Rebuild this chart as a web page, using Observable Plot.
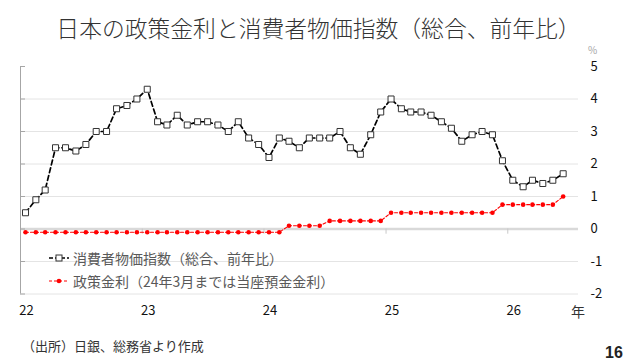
<!DOCTYPE html>
<html><head><meta charset="utf-8">
<script src="https://cdn.jsdelivr.net/npm/d3@7"></script>
<script src="https://cdn.jsdelivr.net/npm/@observablehq/plot@0.6"></script>
<style>
  body{margin:0;background:#fff;font-family:"Noto Sans CJK JP","Noto Sans",sans-serif;}
  #wrap{position:relative;width:637px;height:364px;overflow:hidden;}
  #title{position:absolute;left:0;top:11px;width:637px;text-align:center;font-size:22.8px;color:#333;font-weight:300;white-space:nowrap;letter-spacing:0;}
  #chart{position:absolute;left:0;top:50px;}
  .lbl{position:absolute;white-space:nowrap;}
  #legend{position:absolute;left:49px;top:247px;font-size:14px;color:#595959;}
  #legend div{height:22.5px;display:flex;align-items:center;}
  #legend svg{margin-right:4px;}
</style></head>
<body>
<div id="wrap">
  <div id="title">日本の政策金利と消費者物価指数（総合、前年比）</div>
  <div id="chart"></div>
  <div class="lbl" style="left:588px;top:42px;font-size:10px;color:#a6a6a6;">%</div>
  <div class="lbl" style="left:571px;top:301px;font-size:14px;color:#333;">年</div>
  <div id="legend"></div>
  <div class="lbl" style="left:22px;top:336px;font-size:13px;color:#333;">（出所）日銀、総務省より作成</div>
  <div class="lbl" style="left:605px;top:344px;font-size:16px;font-weight:bold;color:#222;font-family:'Liberation Sans',Arial,sans-serif;">16</div>
</div>
<script>
// ---- data ----
const startMonth = "2022-01";
const cpi = [
  0.5,0.9,1.2,2.5,2.5,2.4,2.6,3.0,3.0,3.7,3.8,4.0,
  4.3,3.3,3.2,3.5,3.2,3.3,3.3,3.2,3.0,3.3,2.8,2.6,
  2.2,2.8,2.7,2.5,2.8,2.8,2.8,3.0,2.5,2.3,2.9,3.6,
  4.0,3.7,3.6,3.6,3.5,3.3,3.1,2.7,2.9,3.0,2.9,2.1,
  1.5,1.3,1.5,1.4,1.5,1.7
];
const policyRate = [
  -0.1,-0.1,-0.1,-0.1,-0.1,-0.1,-0.1,-0.1,-0.1,-0.1,-0.1,-0.1,
  -0.1,-0.1,-0.1,-0.1,-0.1,-0.1,-0.1,-0.1,-0.1,-0.1,-0.1,-0.1,
  -0.1,-0.1,0.1,0.1,0.1,0.1,0.25,0.25,0.25,0.25,0.25,0.25,
  0.5,0.5,0.5,0.5,0.5,0.5,0.5,0.5,0.5,0.5,0.5,0.75,
  0.75,0.75,0.75,0.75,0.75,1.0
];
const yearLabels = ["22","23","24","25","26"];
const yTicks = [-2,-1,0,1,2,3,4,5];
const cpiName = "消費者物価指数（総合、前年比）";
const rateName = "政策金利（24年3月までは当座預金金利）";

// ---- build table ----
const d0 = new Date(startMonth + "-01T00:00:00Z");
const rows = cpi.map((v, i) => ({
  date: new Date(Date.UTC(d0.getUTCFullYear(), d0.getUTCMonth() + i, 16)),
  cpi: v,
  rate: policyRate[i]
}));
const yearStarts = yearLabels.map(s => new Date(Date.UTC(2000 + +s, 0, 1)));
const xDomain = [yearStarts[0], new Date(Date.UTC(2026, 7, 1))];
const gridVals = yTicks.filter(v => v !== 0 && v !== 5);

const chart = Plot.plot({
  width: 637, height: 280,
  marginLeft: 20, marginRight: 59, marginTop: 16, marginBottom: 36.5,
  style: {fontFamily: "'Noto Sans CJK JP', sans-serif", background: "transparent"},
  x: {type: "utc", domain: xDomain},
  y: {domain: [-2, 5]},
  marks: [
    Plot.ruleY(gridVals, {y: d => d, x1: xDomain[0], x2: xDomain[1], stroke: "#e4e4e4", strokeWidth: 1}),
    Plot.ruleY([0], {y: d => d, x1: xDomain[0], x2: xDomain[1], stroke: "#d9d9d9", strokeWidth: 2.5}),
    Plot.ruleX(yearStarts.slice(1), {x: d => d, y1: 0, y2: -0.16, stroke: "#c8c8c8", strokeWidth: 1}),
    Plot.ruleX([xDomain[0]], {x: d => d, y1: -2, y2: 5, stroke: "#a6a6a6", strokeWidth: 1}),
    Plot.tickY(yTicks, {y: d => d, stroke: "#a6a6a6", dx: 0, insetLeft: 0, insetRight: 553, strokeWidth: 1}),
    Plot.line(rows, {x: "date", y: "rate", stroke: "#ff0000", strokeWidth: 1.1, strokeDasharray: "3,2"}),
    Plot.dot(rows, {x: "date", y: "rate", r: 2.3, fill: "#ff0000", stroke: "none"}),
    Plot.line(rows, {x: "date", y: "cpi", stroke: "#000", strokeWidth: 1.7, strokeDasharray: "5,3"}),
    Plot.dot(rows, {x: "date", y: "cpi", symbol: "square", r: 3.4, fill: "#fff", stroke: "#333", strokeWidth: 1}),
    Plot.axisY({anchor: "right", ticks: yTicks, tickSize: 0, tickPadding: 12, fontSize: 13, label: null, tickFormat: d => String(d)}),
    Plot.axisX({anchor: "bottom", ticks: yearStarts, tickSize: 0, tickPadding: 12, fontSize: 13, dx: 6, label: null, tickFormat: (d, i) => yearLabels[i]})
  ]
});
chart.querySelectorAll("text").forEach(t => t.setAttribute("fill", "#111"));
document.getElementById("chart").appendChild(chart);

// ---- legend ----
const lg = document.getElementById("legend");
function swatch(color, dash, width, marker) {
  const ns = "http://www.w3.org/2000/svg";
  const s = document.createElementNS(ns, "svg");
  s.setAttribute("width", 20); s.setAttribute("height", 10);
  const l = document.createElementNS(ns, "line");
  l.setAttribute("x1", 0); l.setAttribute("x2", 20); l.setAttribute("y1", 5); l.setAttribute("y2", 5);
  l.setAttribute("stroke", color); l.setAttribute("stroke-width", width); l.setAttribute("stroke-dasharray", dash);
  s.appendChild(l);
  s.appendChild(marker(ns));
  return s;
}
const sq = ns => { const r = document.createElementNS(ns, "rect"); r.setAttribute("x", 7); r.setAttribute("y", 2); r.setAttribute("width", 6); r.setAttribute("height", 6); r.setAttribute("fill", "#fff"); r.setAttribute("stroke", "#333"); return r; };
const ci = ns => { const c = document.createElementNS(ns, "circle"); c.setAttribute("cx", 10); c.setAttribute("cy", 5); c.setAttribute("r", 2.3); c.setAttribute("fill", "#ff0000"); return c; };
[[cpiName, swatch("#000", "4,2", 1.7, sq)], [rateName, swatch("#ff0000", "3,2", 1.1, ci)]].forEach(([name, sw]) => {
  const d = document.createElement("div");
  d.appendChild(sw);
  d.appendChild(document.createTextNode(name));
  lg.appendChild(d);
});
</script>
</body></html>
